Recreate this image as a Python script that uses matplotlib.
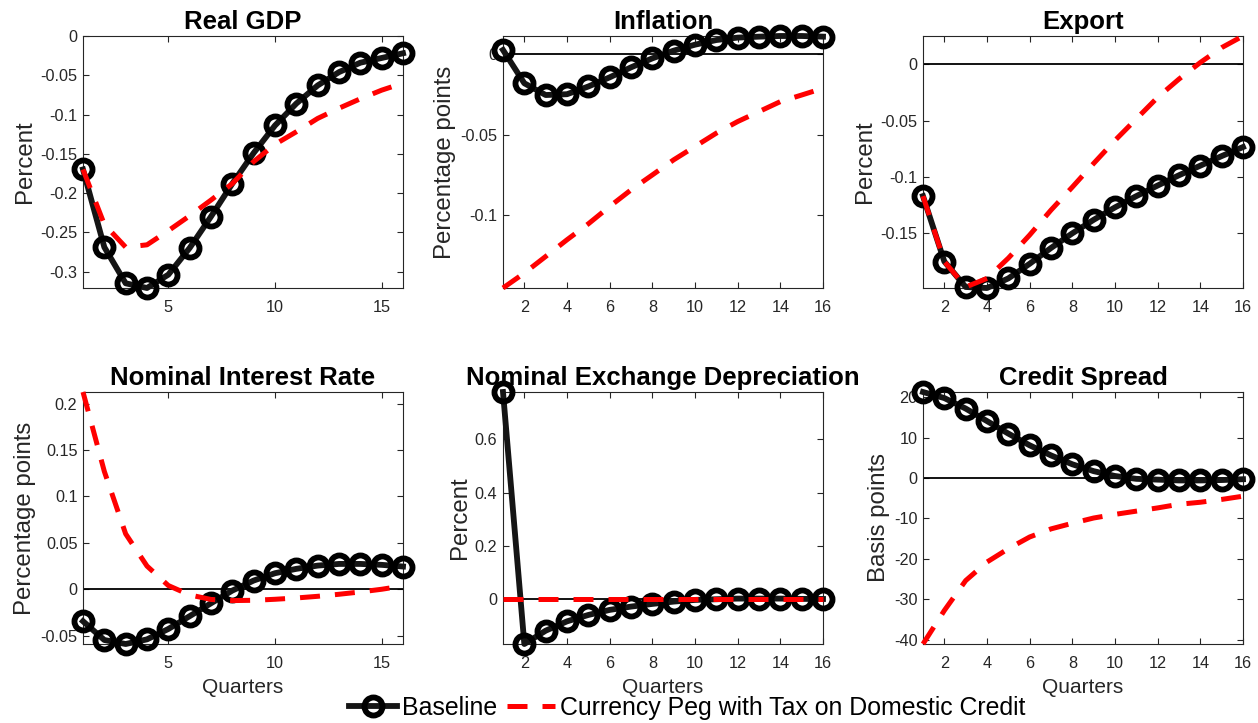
import numpy as np
import matplotlib
matplotlib.use('Agg')
import matplotlib.pyplot as plt
from matplotlib.ticker import FuncFormatter

plt.rcParams['font.family'] = ['Liberation Sans', 'DejaVu Sans']
plt.rcParams['axes.unicode_minus'] = False

quarters = np.arange(1, 17)

# impulse responses, baseline vs. peg with credit tax
gdp_base = [-0.170, -0.269, -0.315, -0.321, -0.304, -0.270, -0.230, -0.188,
            -0.149, -0.114, -0.086, -0.063, -0.046, -0.034, -0.028, -0.022]
gdp_peg = [-0.170, -0.240, -0.269, -0.266, -0.248, -0.229, -0.209, -0.188,
           -0.160, -0.138, -0.122, -0.105, -0.092, -0.080, -0.069, -0.060]

infl_base = [0.0027, -0.018, -0.0253, -0.0248, -0.020, -0.0143, -0.0081, -0.0025,
             0.0023, 0.0060, 0.0089, 0.0104, 0.0110, 0.0114, 0.0114, 0.0110]
infl_peg = [-0.1453, -0.136, -0.1257, -0.1153, -0.1054, -0.0946, -0.0843, -0.075,
            -0.0656, -0.0573, -0.049, -0.0418, -0.0356, -0.0294, -0.0253, -0.0211]

exp_base = [-0.117, -0.175, -0.1976, -0.1985, -0.190, -0.177, -0.163, -0.150,
            -0.138, -0.127, -0.117, -0.1076, -0.0985, -0.090, -0.0815, -0.0735]
exp_peg = [-0.117, -0.175, -0.1976, -0.190, -0.172, -0.1515, -0.1294, -0.109,
           -0.088, -0.0676, -0.0485, -0.0294, -0.0132, 0.0015, 0.0147, 0.025]

rate_base = [-0.0345, -0.0547, -0.059, -0.054, -0.0428, -0.029, -0.0151, -0.0014,
             0.0094, 0.0173, 0.022, 0.0255, 0.0273, 0.0273, 0.0263, 0.0245]
rate_peg = [0.2126, 0.127, 0.0597, 0.025, 0.004, -0.0061, -0.011, -0.0122,
            -0.0119, -0.0108, -0.0094, -0.0076, -0.0054, -0.0029, 0.0, 0.0036]

fx_base = [0.778, -0.168, -0.118, -0.083, -0.059, -0.040, -0.0276, -0.0175,
           -0.0088, -0.0025, 0.0, 0.0025, 0.0025, 0.0025, 0.0013, 0.001]
fx_peg = [0.0] * 16

spread_base = [21.3, 19.8, 17.2, 14.1, 11.0, 8.1, 5.6, 3.4,
               1.7, 0.5, -0.2, -0.4, -0.6, -0.6, -0.5, -0.3]
spread_peg = [-41.1, -32.8, -25.4, -20.8, -17.5, -14.6, -12.6, -11.2,
              -9.9, -9.0, -8.2, -7.4, -6.5, -6.0, -5.3, -4.5]

titles = ['Real GDP', 'Inflation', 'Export',
          'Nominal Interest Rate', 'Nominal Exchange Depreciation', 'Credit Spread']
ylabels = ['Percent', 'Percentage points', 'Percent',
           'Percentage points', 'Percent', 'Basis points']
baseline = [gdp_base, infl_base, exp_base, rate_base, fx_base, spread_base]
peg = [gdp_peg, infl_peg, exp_peg, rate_peg, fx_peg, spread_peg]
yticks = [[-0.3, -0.25, -0.2, -0.15, -0.1, -0.05, 0],
          [-0.1, -0.05, 0],
          [-0.15, -0.1, -0.05, 0],
          [-0.05, 0, 0.05, 0.1, 0.15, 0.2],
          [0, 0.2, 0.4, 0.6],
          [-40, -30, -20, -10, 0, 10, 20]]
xticks = [[5, 10, 15], list(range(2, 17, 2)), list(range(2, 17, 2)),
          [5, 10, 15], list(range(2, 17, 2)), list(range(2, 17, 2))]

W, H = 1258, 723
fig = plt.figure(figsize=(W / 100, H / 100), dpi=100)

lefts = [83, 503, 923]
tops = [36, 392]
ax_w, ax_h = 320, 252
gray = '#262626'

for i in range(6):
    r, c = divmod(i, 3)
    ax = fig.add_axes([lefts[c] / W, 1 - (tops[r] + ax_h) / H, ax_w / W, ax_h / H])
    b = np.array(baseline[i])
    p = np.array(peg[i])

    ax.plot([1, 16], [0, 0], color='black', lw=1.3, zorder=2)
    lb, = ax.plot(quarters, b, color='#151515', lw=4.2, marker='o', ms=13,
                  mfc='none', mec='black', mew=4.2, clip_on=False, zorder=3)
    lp, = ax.plot(quarters, p, color='#ff0000', lw=3.6, ls=(0, (4, 3)),
                  clip_on=False, zorder=4)

    ymin = min(b.min(), p.min(), 0)
    ymax = max(b.max(), p.max(), 0)
    ax.set_xlim(1, 16)
    ax.set_ylim(ymin, ymax)
    ax.set_xticks(xticks[i])
    ax.set_yticks(yticks[i])
    ax.yaxis.set_major_formatter(FuncFormatter(lambda v, pos: '%g' % round(v, 4)))

    ax.tick_params(direction='in', length=4, width=0.8, colors=gray,
                   top=True, right=True, labelsize=11.7)
    ax.tick_params(axis='x', pad=8.5)
    ax.tick_params(axis='y', pad=4)
    for s in ax.spines.values():
        s.set_color(gray)
        s.set_linewidth(0.8)

    ax.set_title(titles[i], fontsize=18.5, fontweight='bold', pad=5)
    ax.set_ylabel(ylabels[i], fontsize=17.3, color=gray, labelpad=3)
    if r == 1:
        ax.set_xlabel('Quarters', fontsize=15, color=gray, labelpad=5)

fig.legend([lb, lp], ['Baseline', 'Currency Peg with Tax on Domestic Credit'],
           loc='center', bbox_to_anchor=(0.5465, 0.021), ncol=2, frameon=False,
           fontsize=17.9, handlelength=1.93, handletextpad=0.2, columnspacing=0.4,
           borderaxespad=0, borderpad=0)

fig.savefig('out.png', dpi=100)
